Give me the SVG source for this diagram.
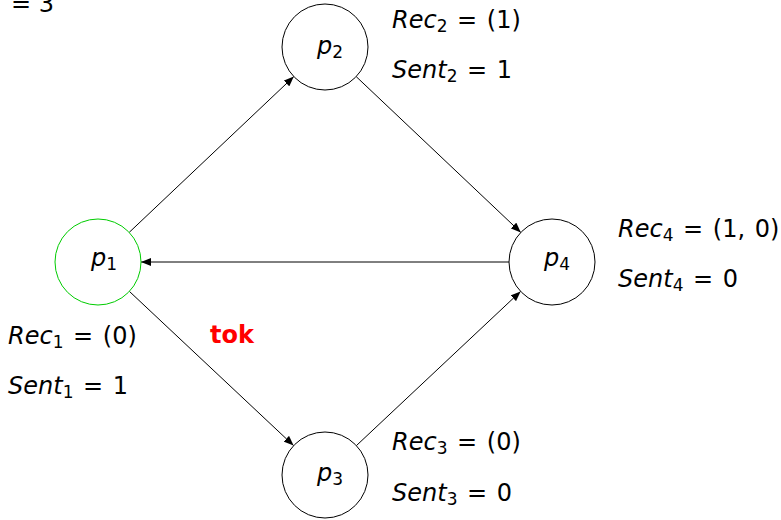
<svg xmlns="http://www.w3.org/2000/svg" width="781" height="520" viewBox="0 0 781 520">
<defs>
<marker id="arr" viewBox="0 0 10 8" refX="10" refY="4" markerWidth="10" markerHeight="8" markerUnits="userSpaceOnUse" orient="auto">
<path d="M0,0 L10,4 L0,8 Z" fill="#000"/>
</marker>
<style>
.node{fill:#fff;stroke:#000;stroke-width:1}
.edge{stroke:#000;stroke-width:1;fill:none;marker-end:url(#arr)}
text{font-family:"DejaVu Sans","Liberation Sans",sans-serif;font-size:24px;fill:#000}
.lbl{word-spacing:2px}
.it{font-style:italic}
.sub{font-size:17px;font-style:normal}
.tok{fill:#ff0000;font-weight:bold}
</style>
</defs>
<rect width="781" height="520" fill="#fff"/>
<text x="11" y="12">= 3</text>
<g id="connectors">
<line class="edge" x1="129.2" y1="232.4" x2="293.8" y2="76.6"/>
<line class="edge" x1="356.2" y1="76.6" x2="520.8" y2="232.4"/>
<line class="edge" x1="509" y1="262" x2="141" y2="262"/>
<line class="edge" x1="129.4" y1="291.4" x2="293.6" y2="445.6"/>
<line class="edge" x1="356.4" y1="445.6" x2="520.6" y2="291.4"/>
</g>
<g id="p1">
<circle cx="98" cy="262" r="43" fill="#fff" stroke="#00cc00" stroke-width="1"/>
<text x="91" y="266"><tspan class="it">p</tspan><tspan class="sub" dy="4">1</tspan></text>
<text class="lbl" x="8" y="344"><tspan class="it">Rec</tspan><tspan class="sub" dy="4">1</tspan><tspan dy="-4"> = (0)</tspan></text>
<text class="lbl" x="8" y="394"><tspan class="it">Sent</tspan><tspan class="sub" dy="4">1</tspan><tspan dy="-4"> = 1</tspan></text>
</g>
<g id="p2">
<circle class="node" cx="325" cy="47" r="43"/>
<text x="317" y="54"><tspan class="it">p</tspan><tspan class="sub" dy="4">2</tspan></text>
<text class="lbl" x="392" y="28"><tspan class="it">Rec</tspan><tspan class="sub" dy="4">2</tspan><tspan dy="-4"> = (1)</tspan></text>
<text class="lbl" x="392" y="78"><tspan class="it">Sent</tspan><tspan class="sub" dy="4">2</tspan><tspan dy="-4"> = 1</tspan></text>
</g>
<g id="p3">
<circle class="node" cx="325" cy="475" r="43"/>
<text x="317" y="481"><tspan class="it">p</tspan><tspan class="sub" dy="4">3</tspan></text>
<text class="lbl" x="392" y="450"><tspan class="it">Rec</tspan><tspan class="sub" dy="4">3</tspan><tspan dy="-4"> = (0)</tspan></text>
<text class="lbl" x="392" y="501"><tspan class="it">Sent</tspan><tspan class="sub" dy="4">3</tspan><tspan dy="-4"> = 0</tspan></text>
</g>
<g id="p4">
<circle class="node" cx="552" cy="262" r="43"/>
<text x="544" y="266"><tspan class="it">p</tspan><tspan class="sub" dy="4">4</tspan></text>
<text class="lbl" x="618" y="237"><tspan class="it">Rec</tspan><tspan class="sub" dy="4">4</tspan><tspan dy="-4"> = (1, 0)</tspan></text>
<text class="lbl" x="618" y="287"><tspan class="it">Sent</tspan><tspan class="sub" dy="4">4</tspan><tspan dy="-4"> = 0</tspan></text>
</g>
<text class="tok" x="210" y="343">tok</text>
</svg>
